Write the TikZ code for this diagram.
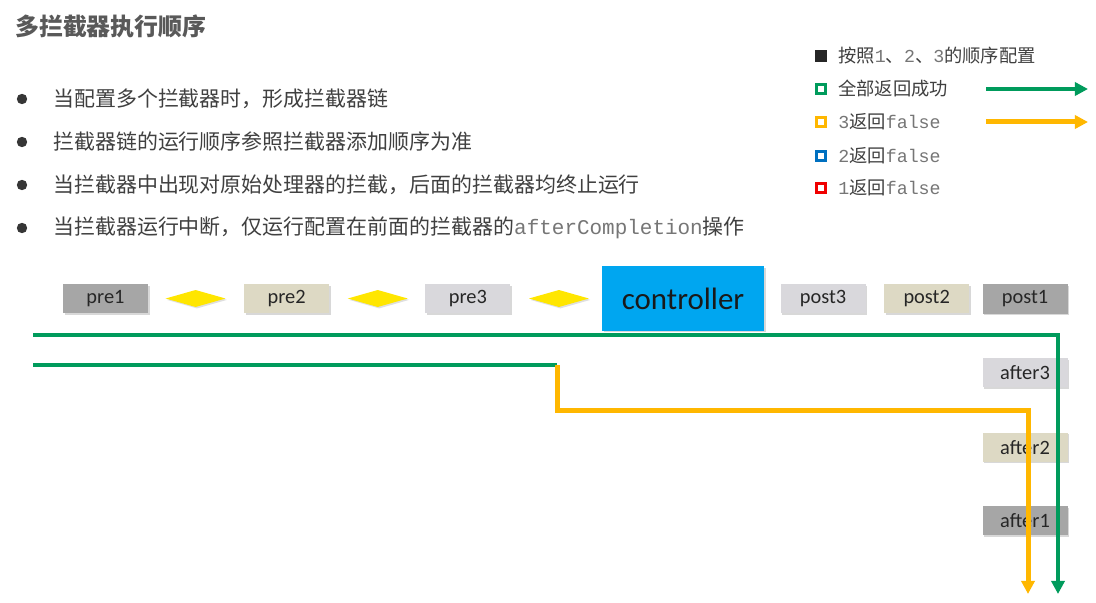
\documentclass[tikz,border=0pt]{standalone}
\usepackage{fontspec}
\setmainfont{Noto Sans CJK SC}
\newfontfamily\monofont{Liberation Mono}
\newfontfamily\boxfont{Carlito}
\usetikzlibrary{arrows.meta, positioning, shapes.geometric, shadows}

\definecolor{okgreen}{RGB}{0,155,92}
\definecolor{failorange}{RGB}{255,183,0}
\definecolor{twoblue}{RGB}{0,112,192}
\definecolor{onered}{RGB}{240,0,0}
\definecolor{ctrlblue}{RGB}{0,166,240}
\definecolor{gateyellow}{RGB}{255,230,0}
\definecolor{boxdark}{RGB}{166,166,166}
\definecolor{boxbeige}{RGB}{221,217,196}
\definecolor{boxlight}{RGB}{217,216,220}
\definecolor{titlegray}{RGB}{89,89,89}
\definecolor{bodygray}{RGB}{64,64,64}
\definecolor{monogray}{RGB}{118,118,118}

\newcommand{\mono}[1]{{\monofont\color{monogray}#1}}

\tikzset{
    chain_box/.style={
        rectangle,
        minimum width=2.125cm,
        minimum height=0.725cm,
        inner sep=0pt,
        font=\boxfont\fontsize{14.5}{16}\selectfont,
        text=black!85,
        drop shadow={shadow xshift=1.3pt, shadow yshift=-1.3pt, opacity=0.3}
    },
    chain_dark/.style={chain_box, fill=boxdark},
    chain_beige/.style={chain_box, fill=boxbeige},
    chain_light/.style={chain_box, fill=boxlight},
    chain_ctrl/.style={
        rectangle,
        fill=ctrlblue,
        minimum width=4.05cm,
        minimum height=1.6cm,
        inner sep=0pt,
        font=\boxfont\fontsize{22}{24}\selectfont,
        text=black!90,
        drop shadow={shadow xshift=1.3pt, shadow yshift=-1.3pt, opacity=0.3}
    },
    chain_gate/.style={
        diamond,
        fill=gateyellow,
        minimum width=1.5cm,
        minimum height=0.43cm,
        inner sep=0pt,
        drop shadow={shadow xshift=1pt, shadow yshift=-1pt, opacity=0.25}
    },
    chain_ok/.style={
        -{Triangle[length=0.33cm, width=0.33cm]},
        draw=okgreen,
        line width=0.115cm
    },
    chain_fail/.style={
        -{Triangle[length=0.33cm, width=0.33cm]},
        draw=failorange,
        line width=0.125cm
    },
    chain_plain/.style={
        draw=okgreen,
        line width=0.115cm
    },
    item_dot/.style={
        circle,
        fill=bodygray!85!black,
        minimum size=0.26cm,
        inner sep=0pt
    },
    item_text/.style={
        anchor=west,
        inner sep=0pt,
        text=bodygray,
        font=\fontsize{14.9}{18}\selectfont
    },
    leg_mark/.style={
        rectangle,
        fill=white,
        line width=0.065cm,
        minimum size=0.23cm,
        inner sep=0pt
    },
    leg_text/.style={
        anchor=west,
        inner sep=0pt,
        text=bodygray,
        font=\fontsize{13}{15}\selectfont
    }
}

\begin{document}
\begin{tikzpicture}[x=0.025cm, y=-0.025cm]
\useasboundingbox[fill=white] (0,0) rectangle (1096,603);

% Title
\node[anchor=west, inner sep=0pt, text=titlegray, font=\fontsize{17}{20}\selectfont\bfseries] (title) at (15,26) {多拦截器执行顺序};

% Bullets
\node[item_dot] (dot1) at (22,99) {};
\node[item_text] (item1) at (53,99) {当配置多个拦截器时，形成拦截器链};
\node[item_dot] (dot2) at (22,142) {};
\node[item_text] (item2) at (53,142) {拦截器链的运行顺序参照拦截器添加顺序为准};
\node[item_dot] (dot3) at (22,185) {};
\node[item_text] (item3) at (53,185) {当拦截器中出现对原始处理器的拦截，后面的拦截器均终止运行};
\node[item_dot] (dot4) at (22,228) {};
\node[item_text] (item4) at (53,228) {当拦截器运行中断，仅运行配置在前面的拦截器的\mono{afterCompletion}操作};

% Legend
\node[leg_mark, fill=black!85, draw=black!85] (legMark1) at (821,56) {};
\node[leg_text] (legText1) at (838,56) {按照\mono{1}、\mono{2}、\mono{3}的顺序配置};
\node[leg_mark, draw=okgreen] (legMark2) at (821,89) {};
\node[leg_text] (legText2) at (838,89) {全部返回成功};
\node[leg_mark, draw=failorange] (legMark3) at (821,122) {};
\node[leg_text] (legText3) at (838,122) {\mono{3}返回\mono{false}};
\node[leg_mark, draw=twoblue] (legMark4) at (821,156) {};
\node[leg_text] (legText4) at (838,156) {\mono{2}返回\mono{false}};
\node[leg_mark, draw=onered] (legMark5) at (821,188) {};
\node[leg_text] (legText5) at (838,188) {\mono{1}返回\mono{false}};
\coordinate (legOkL) at (986,89);
\coordinate (legOkR) at (1088,89);
\coordinate (legFailL) at (986,122);
\coordinate (legFailR) at (1088,122);
\draw[chain_ok] (legOkL) -- (legOkR);
\draw[chain_fail] (legFailL) -- (legFailR);

% Interceptor chain
\node[chain_dark] (pre1) at (105.5,298.5) {pre1};
\node[chain_gate, right=0.425cm of pre1] (gate1) {};
\node[chain_beige, right=0.45cm of gate1] (pre2) {pre2};
\node[chain_gate, right=0.45cm of pre2] (gate2) {};
\node[chain_light, right=0.425cm of gate2] (pre3) {pre3};
\node[chain_gate, right=0.45cm of pre3] (gate3) {};
\node[chain_ctrl] (controller) at (683,298.5) {controller};
\node[chain_light, right=0.4cm of controller] (post3) {post3};
\node[chain_beige, right=0.45cm of post3] (post2) {post2};
\node[chain_dark] (post1) at (1025,299) {post1};
\node[chain_light, below=1.1cm of post1] (after3) {after3};
\node[chain_beige, below=1.125cm of after3] (after2) {after2};
\node[chain_dark, below=1.1cm of after2] (after1) {after1};

% Flows
\coordinate (okStart) at (33,335);
\coordinate (okEnd) at (1058,594);
\coordinate (brkStart) at (33,365);
\coordinate (brkTurn) at (557,365);
\coordinate (brkMid) at (557,410);
\coordinate (brkEnd) at (1028,594);
\draw[chain_ok] (okStart) -| (okEnd);
\draw[chain_plain] (brkStart) -- (brkTurn);
\draw[chain_fail] (brkTurn) -- (brkMid) -| (brkEnd);

\end{tikzpicture}
\end{document}
